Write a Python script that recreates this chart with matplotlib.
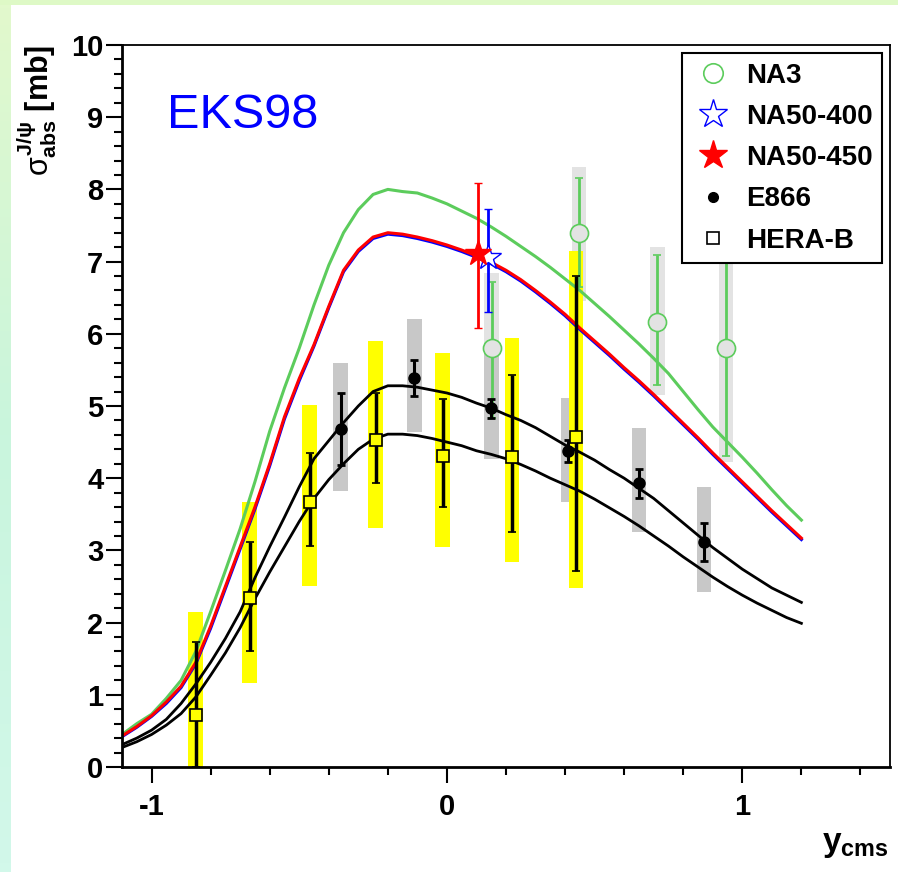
import matplotlib
matplotlib.use('Agg')
import matplotlib.pyplot as plt
import numpy as np
from matplotlib.lines import Line2D
from matplotlib.ticker import MultipleLocator

plt.rcParams['font.family'] = ['Liberation Sans', 'DejaVu Sans']
plt.rcParams['mathtext.fontset'] = 'custom'
plt.rcParams['mathtext.rm'] = 'Liberation Sans'
plt.rcParams['mathtext.it'] = 'Liberation Sans'
plt.rcParams['mathtext.bf'] = 'Liberation Sans:bold'
plt.rcParams['axes.unicode_minus'] = False

# theory curves (EKS98), sampled in y_cms
y_cms = [-1.1, -1.05, -1.0, -0.95, -0.9, -0.85, -0.8, -0.75, -0.7, -0.65, -0.6, -0.55,
         -0.5, -0.45, -0.4, -0.35, -0.3, -0.25, -0.2, -0.15, -0.1, -0.05, 0.0, 0.05,
         0.1, 0.15, 0.2, 0.25, 0.3, 0.35, 0.4, 0.45, 0.5, 0.55, 0.6, 0.65, 0.7, 0.75,
         0.8, 0.85, 0.9, 0.95, 1.0, 1.05, 1.1, 1.15, 1.2]
curve_na3 = [0.45, 0.6, 0.73, 0.95, 1.2, 1.6, 2.15, 2.72, 3.3, 3.95, 4.65, 5.25,
             5.8, 6.4, 6.95, 7.4, 7.72, 7.93, 8.0, 7.97, 7.95, 7.88, 7.8, 7.7,
             7.6, 7.48, 7.35, 7.21, 7.07, 6.92, 6.76, 6.6, 6.42, 6.24, 6.05, 5.86, 5.66, 5.45,
             5.2, 4.95, 4.71, 4.5, 4.29, 4.07, 3.84, 3.62, 3.42]
curve_na50_450 = [0.43, 0.56, 0.71, 0.9, 1.12, 1.45, 1.95, 2.5, 3.05, 3.6, 4.2, 4.85,
                  5.38, 5.85, 6.38, 6.88, 7.16, 7.34, 7.4, 7.38, 7.34, 7.29, 7.23, 7.16,
                  7.08, 6.99, 6.88, 6.75, 6.6, 6.44, 6.27, 6.08, 5.9, 5.72, 5.53, 5.35, 5.16, 4.96,
                  4.76, 4.56, 4.35, 4.15, 3.95, 3.75, 3.55, 3.36, 3.17]
curve_na50_400 = [0.42, 0.55, 0.7, 0.88, 1.1, 1.43, 1.92, 2.47, 3.02, 3.57, 4.17, 4.82,
                  5.35, 5.83, 6.36, 6.86, 7.14, 7.32, 7.38, 7.36, 7.32, 7.27, 7.21, 7.14,
                  7.06, 6.97, 6.86, 6.73, 6.58, 6.42, 6.25, 6.06, 5.88, 5.7, 5.51, 5.33, 5.14, 4.94,
                  4.74, 4.54, 4.33, 4.13, 3.93, 3.73, 3.53, 3.34, 3.15]
curve_e866 = [0.31, 0.4, 0.51, 0.66, 0.88, 1.15, 1.45, 1.78, 2.15, 2.62, 3.05, 3.46,
              3.88, 4.27, 4.52, 4.77, 5.0, 5.2, 5.28, 5.28, 5.26, 5.22, 5.18, 5.12,
              5.04, 4.97, 4.88, 4.8, 4.7, 4.58, 4.46, 4.36, 4.25, 4.12, 4.0, 3.86, 3.72, 3.55,
              3.38, 3.21, 3.04, 2.89, 2.74, 2.61, 2.48, 2.38, 2.28]
curve_herab = [0.27, 0.35, 0.45, 0.58, 0.74, 0.97, 1.27, 1.58, 1.93, 2.33, 2.7, 3.05,
               3.4, 3.72, 3.98, 4.2, 4.4, 4.54, 4.61, 4.61, 4.59, 4.55, 4.5, 4.45,
               4.38, 4.33, 4.27, 4.19, 4.1, 4.0, 3.91, 3.82, 3.71, 3.59, 3.47, 3.34, 3.2, 3.06,
               2.91, 2.77, 2.63, 2.5, 2.38, 2.27, 2.17, 2.07, 1.99]

# NA3
na3_x = [0.152, 0.447, 0.712, 0.945]
na3_y = [5.8, 7.4, 6.16, 5.8]
na3_elo = [0.97, 0.75, 0.87, 1.49]
na3_ehi = [0.92, 0.76, 0.93, 1.5]
na3_blo = [4.3, 6.45, 5.15, 4.22]
na3_bhi = [6.84, 8.31, 7.2, 7.4]

# NA50
na50_400_x = [0.14]
na50_400_y = [7.06]
na50_400_elo = [0.76]
na50_400_ehi = [0.67]
na50_450_x = [0.105]
na50_450_y = [7.12]
na50_450_elo = [1.04]
na50_450_ehi = [0.97]

# E866
e866_x = [-0.36, -0.11, 0.15, 0.41, 0.65, 0.87]
e866_y = [4.68, 5.39, 4.97, 4.38, 3.93, 3.12]
e866_err = [0.5, 0.25, 0.13, 0.15, 0.2, 0.26]
e866_blo = [3.82, 4.64, 4.26, 3.67, 3.26, 2.42]
e866_bhi = [5.6, 6.2, 5.78, 5.11, 4.7, 3.88]

# HERA-B
herab_x = [-0.851, -0.668, -0.464, -0.241, -0.014, 0.22, 0.437]
herab_y = [0.72, 2.34, 3.67, 4.53, 4.31, 4.29, 4.57]
herab_elo = [0.72, 0.74, 0.61, 0.6, 0.71, 1.04, 1.86]
herab_ehi = [1.01, 0.78, 0.68, 0.65, 0.79, 1.14, 2.23]
herab_blo = [0.0, 1.16, 2.51, 3.31, 3.05, 2.84, 2.48]
herab_bhi = [2.15, 3.67, 5.01, 5.9, 5.73, 5.94, 7.15]

green = '#5ccc5c'
fig = plt.figure(figsize=(8.98, 8.72), dpi=100)

# light frame at left and top edges
bg = fig.add_axes([0, 0, 11 / 898, 1])
grad = np.linspace(0, 1, 100).reshape(-1, 1)
bg.imshow(grad, aspect='auto', cmap=matplotlib.colors.LinearSegmentedColormap.from_list(
    'edge', ['#e2f9cc', '#c9f5dd', '#d2f8ea']), extent=[0, 1, 0, 1], origin='upper')
bg.axis('off')
top = fig.add_axes([0, 1 - 5 / 872, 1, 5 / 872])
top.set_facecolor('#def9c6')
top.set_xticks([])
top.set_yticks([])
for s in top.spines.values():
    s.set_visible(False)

ax = fig.add_axes([122 / 898, 105 / 872, 768 / 898, 722 / 872])

# systematic boxes
w = 0.05
ax.bar(na3_x, np.subtract(na3_bhi, na3_blo), bottom=na3_blo, width=w, color='#e3e3e3', zorder=1)
ax.bar(e866_x, np.subtract(e866_bhi, e866_blo), bottom=e866_blo, width=w, color='#c8c8c8', zorder=1)
ax.bar(herab_x, np.subtract(herab_bhi, herab_blo), bottom=herab_blo, width=w, color='#ffff00', zorder=1)

# curves
ax.plot(y_cms, curve_na3, color=green, lw=2.2, zorder=2)
ax.plot(y_cms, curve_na50_400, color='blue', lw=2.2, zorder=2)
ax.plot(y_cms, curve_na50_450, color='red', lw=2.2, zorder=2)
ax.plot(y_cms, curve_e866, color='black', lw=2.0, zorder=2)
ax.plot(y_cms, curve_herab, color='black', lw=2.0, zorder=2)

# data points
ax.errorbar(na3_x, na3_y, yerr=[na3_elo, na3_ehi], fmt='o', color=green, mfc='#e3e3e3',
            mec=green, ms=13, mew=1.2, elinewidth=2, capsize=3, capthick=2, zorder=3)
ax.errorbar(na50_400_x, na50_400_y, yerr=[na50_400_elo, na50_400_ehi], fmt='*', color='blue',
            mfc='white', mec='blue', ms=19, mew=1.0, elinewidth=2, capsize=3, capthick=2, zorder=3)
ax.errorbar(na50_450_x, na50_450_y, yerr=[na50_450_elo, na50_450_ehi], fmt='*', color='red',
            mfc='red', mec='red', ms=19, mew=1.0, elinewidth=2, capsize=3, capthick=2, zorder=4)
ax.errorbar(e866_x, e866_y, yerr=e866_err, fmt='o', color='black', ms=8,
            elinewidth=2.2, capsize=3, capthick=2, zorder=3)
ax.errorbar(herab_x, herab_y, yerr=[herab_elo, herab_ehi], fmt='s', color='black', mfc='#ffff00',
            mec='black', ms=9, mew=1.2, elinewidth=2.5, capsize=3, capthick=2, zorder=3)

ax.text(-0.946, 8.85, 'EKS98', color='blue', fontsize=35)

ax.set_xlim(-1.1, 1.5)
ax.set_ylim(0, 10)
ax.xaxis.set_major_locator(MultipleLocator(1))
ax.xaxis.set_minor_locator(MultipleLocator(0.2))
ax.yaxis.set_major_locator(MultipleLocator(1))
ax.yaxis.set_minor_locator(MultipleLocator(0.2))
ax.tick_params(which='both', direction='out', top=False, right=False, width=1.5)
ax.tick_params(which='major', length=11.5, labelsize=21)
ax.tick_params(which='minor', length=6)
ax.tick_params(axis='y', pad=2)
ax.tick_params(axis='x', pad=7)
for lab in ax.get_xticklabels() + ax.get_yticklabels():
    lab.set_fontweight('bold')
for s in ['left', 'bottom']:
    ax.spines[s].set_linewidth(2)
for s in ['right', 'top']:
    ax.spines[s].set_linewidth(1.3)

fig.text(37 / 898, 1 - 45 / 872, r'$\sigma^{\mathbf{J/\psi}}_{\mathbf{abs}}$ [mb]', rotation=90,
         ha='center', va='top', fontsize=22, fontweight='bold')
fig.text(889 / 898, 12 / 872, r'$\mathbf{y_{cms}}$', ha='right', va='bottom', fontsize=24)

handles = [
    Line2D([], [], ls='none', marker='o', mfc='none', mec=green, ms=14, mew=1.2),
    Line2D([], [], ls='none', marker='*', mfc='none', mec='blue', ms=21, mew=1.0),
    Line2D([], [], ls='none', marker='*', mfc='red', mec='red', ms=21),
    Line2D([], [], ls='none', marker='o', mfc='black', mec='black', ms=7),
    Line2D([], [], ls='none', marker='s', mfc='none', mec='black', ms=8, mew=1.2),
]
labels = ['NA3', 'NA50-400', 'NA50-450', 'E866', 'HERA-B']
leg = ax.legend(handles, labels, loc='upper right', bbox_to_anchor=(0.99, 0.989),
                prop={'weight': 'bold', 'size': 20}, fancybox=False, framealpha=1,
                edgecolor='black', borderpad=0.35, labelspacing=0.55, handletextpad=0.45,
                handlelength=1.5, borderaxespad=0)
leg.get_frame().set_linewidth(1.5)

plt.savefig('out.png', dpi=100)
